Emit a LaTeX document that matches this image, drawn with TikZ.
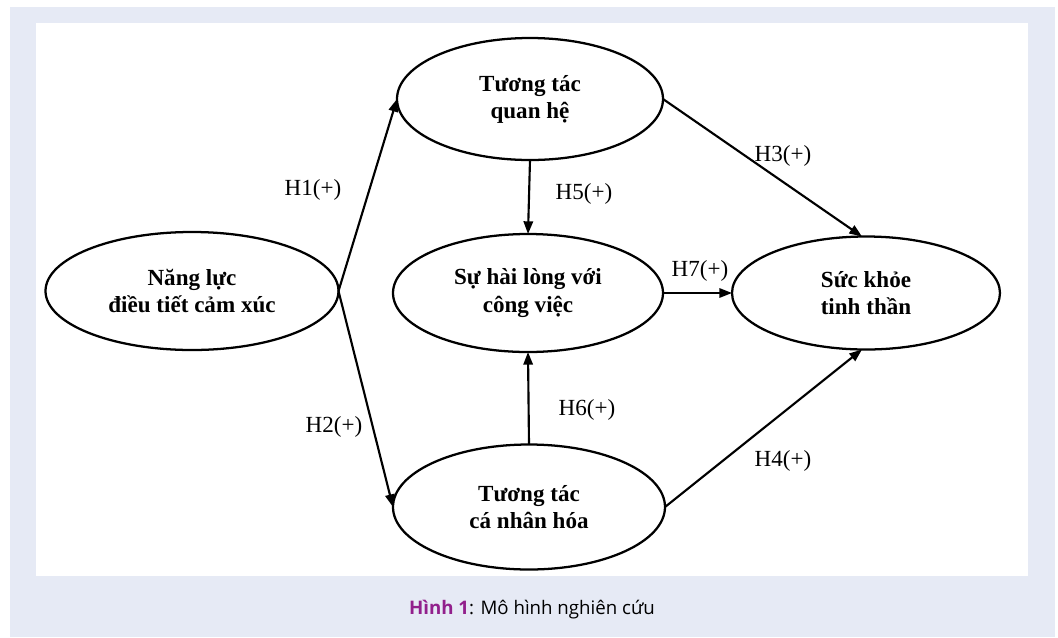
\documentclass[tikz,border=0pt]{standalone}
\usepackage{fontspec}
\setmainfont{Liberation Serif}
\newfontfamily\capfont{Open Sans}
\usetikzlibrary{shapes.geometric,arrows.meta}
\definecolor{bgblue}{RGB}{230,234,245}
\definecolor{cappurple}{RGB}{146,32,140}
\tikzset{
  construct/.style={ellipse, draw=black, line width=1.7pt, fill=white, inner sep=0pt, outer sep=0pt,
    align=center, font=\fontsize{17.3pt}{20.3pt}\selectfont\bfseries},
  path/.style={line width=1.6pt, -{Triangle[length=9.5pt,width=7pt]}},
  hlabel/.style={font=\fontsize{17.3pt}{20pt}\selectfont, inner sep=0pt}
}
\begin{document}
\begin{tikzpicture}[x=0.75pt,y=-0.75pt]
\useasboundingbox (0,0) rectangle (1058,637);
\fill[white] (0,0) rectangle (1058,637);
\fill[bgblue] (10,7) rectangle (1055,637);
\fill[white] (36,23) rectangle (1028,576);

\node[construct, minimum width=219.75pt, minimum height=88.5pt] (nl) at (192,291) {Năng lực\\điều tiết cảm xúc};
\node[construct, minimum width=199.5pt, minimum height=91.5pt] (qh) at (530,99) {Tương tác\\quan hệ};
\node[construct, minimum width=202.5pt, minimum height=88.5pt] (hl) at (528,293) {Sự hài lòng với\\công việc};
\node[construct, minimum width=201pt, minimum height=84.75pt] (sk) at (866,293) {\raisebox{0pt}[\height][\depth]{Sức khỏe}\\tinh thần};
\node[construct, minimum width=204pt, minimum height=93.75pt] (cn) at (529,507) {Tương tác\\cá nhân hóa};

\draw[path] (nl.east) -- (qh.west);
\draw[path] (nl.east) -- (cn.west);
\draw[path] (qh.east) -- ([xshift=-3pt]sk.north);
\draw[path] (cn.east) -- ([xshift=-3pt]sk.south);
\draw[path] (qh.south) -- (hl.north);
\draw[path] (cn.north) -- (hl.south);
\draw[path] (hl.east) -- (sk.west);

\node[hlabel] (l1) at (313,190) {H1(+)};
\node[hlabel] (l2) at (334,427) {H2(+)};
\node[hlabel] (l3) at (783,156) {H3(+)};
\node[hlabel] (l4) at (783,461) {H4(+)};
\node[hlabel] (l5) at (584,194) {H5(+)};
\node[hlabel] (l6) at (587,410) {H6(+)};
\node[hlabel] (l7) at (700,271) {H7(+)};

\node[font=\capfont\fontsize{14pt}{16pt}\selectfont, inner sep=0pt] (cap) at (532,610)
  {{\bfseries\color{cappurple}Hình 1}: Mô hình nghiên cứu};
\end{tikzpicture}
\end{document}
